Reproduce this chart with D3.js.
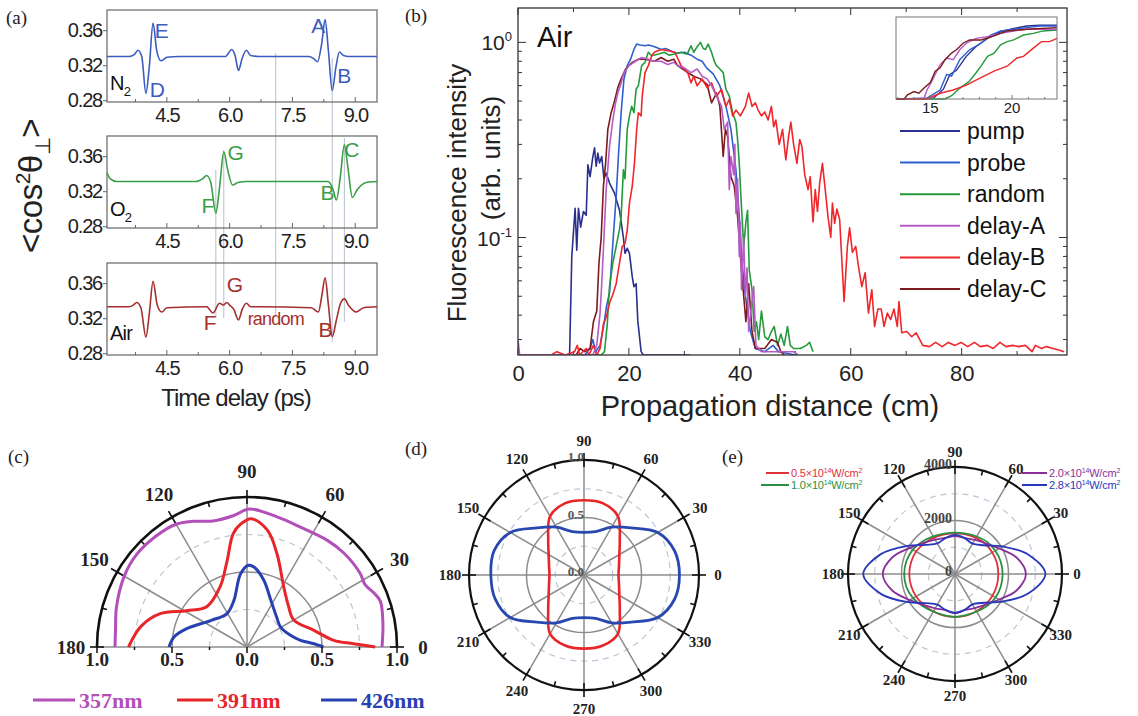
<!DOCTYPE html>
<html>
<head>
<meta charset="utf-8">
<script src="https://cdn.jsdelivr.net/npm/d3@7"></script>
<style>
  body { margin: 0; background: #fff; }
  svg { display: block; }
</style>
</head>
<body>
<svg id="canvas"></svg>
<script>
// ---------------- data ----------------
// (a) alignment traces, [time delay ps, <cos^2 theta>]
const n2Trace = [[3.07,0.330],[3.6,0.330],[3.72,0.332],[3.81,0.337],[3.9,0.330],[4.0,0.288],[4.08,0.318],[4.17,0.368],[4.26,0.336],[4.36,0.325],[4.5,0.329],[4.8,0.330],[5.9,0.330],[6.05,0.338],[6.13,0.331],[6.21,0.314],[6.3,0.328],[6.4,0.337],[6.5,0.331],[6.7,0.330],[7.9,0.330],[8.02,0.327],[8.1,0.324],[8.2,0.345],[8.28,0.372],[8.36,0.336],[8.45,0.291],[8.54,0.318],[8.62,0.335],[8.72,0.331],[8.85,0.330],[9.52,0.330]];
const o2Trace = [[3.07,0.341],[3.15,0.334],[3.3,0.331],[5.2,0.331],[5.35,0.334],[5.45,0.338],[5.55,0.330],[5.67,0.295],[5.76,0.325],[5.86,0.365],[5.95,0.345],[6.07,0.327],[6.2,0.330],[6.4,0.331],[8.35,0.331],[8.47,0.322],[8.55,0.310],[8.64,0.335],[8.74,0.373],[8.83,0.345],[8.93,0.313],[9.05,0.322],[9.26,0.330],[9.52,0.331]];
const airTrace = [[3.07,0.333],[3.6,0.333],[3.7,0.335],[3.78,0.338],[3.88,0.332],[4.0,0.2985],[4.08,0.325],[4.17,0.362],[4.27,0.335],[4.38,0.327],[4.5,0.332],[5.45,0.333],[5.6,0.326],[5.76,0.337],[5.85,0.335],[5.93,0.338],[6.0,0.335],[6.1,0.330],[6.21,0.318],[6.3,0.330],[6.4,0.337],[6.5,0.333],[6.7,0.333],[7.95,0.332],[8.12,0.327],[8.2,0.345],[8.28,0.366],[8.36,0.335],[8.45,0.299],[8.55,0.318],[8.65,0.337],[8.74,0.342],[8.85,0.334],[9.02,0.327],[9.2,0.332],[9.52,0.333]];
const aXTicks = [4.5, 6.0, 7.5, 9.0];
const aYTicks = [0.28, 0.32, 0.36];
const guideTimes = [5.67, 5.86, 7.1, 8.45, 8.74];
// peak labels, [text, time, value]
const n2Labels = [['E',4.21,0.351],['D',4.09,0.284],['A',7.95,0.357],['B',8.57,0.300]];
const o2Labels = [['G',5.95,0.356],['F',5.33,0.295],['B',8.17,0.310],['C',8.74,0.359]];
const airLabels = [['G',5.93,0.350],['F',5.38,0.3065],['random',6.43,0.312],['B',8.12,0.2985]];

// (b) fluorescence vs propagation distance, [cm, intensity]
const pumpData = [[0,0.025],[9.3,0.025],[9.7,0.08],[10.3,0.141],[10.6,0.086],[10.9,0.141],[11.3,0.113],[11.8,0.136],[12.3,0.13],[12.6,0.236],[13.0,0.205],[13.5,0.26],[13.8,0.288],[14.1,0.232],[14.4,0.271],[14.7,0.241],[15.1,0.26],[15.5,0.2],[15.9,0.214],[16.5,0.19],[17.4,0.169],[18.3,0.138],[19.0,0.1],[19.3,0.083],[19.7,0.088],[20.1,0.083],[20.6,0.063],[20.9,0.056],[21.3,0.058],[21.6,0.0375],[22.2,0.026],[22.6,0.025],[31,0.025]];
const probeData = [[0,0.025],[12,0.025],[13.0,0.027],[13.5,0.03],[14.0,0.026],[14.8,0.028],[15.5,0.036],[16.0,0.045],[16.5,0.052],[17.1,0.093],[17.7,0.162],[18.1,0.26],[18.6,0.436],[19.1,0.647],[19.7,0.76],[20.3,0.82],[20.9,0.92],[21.4,0.98],[22.0,0.97],[22.9,0.96],[23.5,0.97],[24.1,0.96],[25.0,0.94],[25.8,0.92],[26.6,0.93],[27.5,0.905],[28.5,0.88],[30,0.89],[31.2,0.86],[32.3,0.82],[33.2,0.8],[34,0.74],[35.2,0.69],[36.4,0.6],[37.5,0.47],[38.4,0.358],[39.3,0.222],[39.9,0.128],[40.4,0.074],[41,0.05],[41.9,0.033],[42.8,0.027],[44.5,0.026],[46,0.028],[47,0.026],[50,0.025]];
const randomData = [[0,0.025],[15.0,0.025],[15.6,0.026],[16.1,0.036],[16.5,0.056],[17.1,0.074],[17.7,0.09],[18.3,0.11],[18.6,0.128],[19.0,0.222],[19.3,0.2],[19.7,0.358],[20.1,0.42],[20.5,0.47],[20.9,0.436],[21.3,0.575],[21.7,0.6],[22.3,0.76],[22.9,0.79],[23.5,0.89],[24.1,0.854],[25.2,0.87],[26.4,0.89],[27.2,0.86],[28.1,0.87],[29.4,0.89],[30.5,0.87],[31.2,0.96],[31.7,0.89],[32.3,0.95],[32.9,1.0],[33.4,0.93],[33.8,0.92],[34.3,0.98],[34.9,0.89],[35.4,0.8],[35.8,0.76],[36.4,0.73],[37,0.7],[37.5,0.575],[38.1,0.53],[38.7,0.436],[39.3,0.39],[39.6,0.318],[39.9,0.24],[40.2,0.162],[40.4,0.128],[40.7,0.09],[41.1,0.12],[41.4,0.138],[41.7,0.068],[42.2,0.054],[42.6,0.033],[43.0,0.037],[43.4,0.03],[43.9,0.042],[44.5,0.031],[45.1,0.03],[45.7,0.033],[46.2,0.035],[46.8,0.028],[47.4,0.032],[48,0.028],[48.6,0.035],[49.1,0.028],[49.7,0.027],[50.9,0.027],[52,0.028],[52.6,0.029],[53.2,0.026]];
const delayAData = [[0,0.03],[0.3,0.025],[13.5,0.025],[14.2,0.028],[14.8,0.041],[15.1,0.058],[15.5,0.1],[15.9,0.176],[16.5,0.293],[17.1,0.4],[17.6,0.49],[18.0,0.55],[18.6,0.62],[19.1,0.7],[20,0.76],[21.2,0.8],[22.3,0.837],[23.5,0.82],[24.6,0.8],[25.8,0.8],[27,0.77],[28.1,0.79],[28.8,0.76],[30,0.74],[31.2,0.7],[32.3,0.73],[33.2,0.67],[34.1,0.65],[34.9,0.6],[35.8,0.53],[36.7,0.47],[37.2,0.358],[37.8,0.39],[38.1,0.176],[38.4,0.26],[38.9,0.21],[39.1,0.3],[39.3,0.133],[39.6,0.2],[39.9,0.08],[40.1,0.12],[40.3,0.054],[40.7,0.1],[41.0,0.05],[41.3,0.07],[41.6,0.033],[42.1,0.045],[42.5,0.056],[42.9,0.028],[43.9,0.026],[45.1,0.026],[46.8,0.026],[49.7,0.026],[50.5,0.025]];
const delayBData = [[0,0.025],[6,0.025],[7,0.026],[8.5,0.025],[10.2,0.026],[10.7,0.028],[11.1,0.025],[12.3,0.027],[12.8,0.025],[13.6,0.028],[14.2,0.025],[14.8,0.027],[15.4,0.036],[15.9,0.039],[16.5,0.046],[17.1,0.051],[17.7,0.058],[18.3,0.074],[18.8,0.09],[19.3,0.093],[19.7,0.109],[20.1,0.15],[20.6,0.183],[21.0,0.24],[21.4,0.358],[21.7,0.436],[22.2,0.42],[22.4,0.53],[22.9,0.7],[23.5,0.76],[24.1,0.854],[24.6,0.89],[25.8,0.92],[27,0.905],[28.3,0.89],[29.4,0.76],[30.6,0.7],[31.2,0.62],[31.7,0.67],[32.3,0.6],[33.2,0.65],[34.1,0.586],[34.9,0.62],[35.8,0.53],[36.7,0.575],[37.5,0.47],[38.1,0.51],[38.7,0.42],[39.3,0.45],[40.1,0.42],[41.0,0.47],[41.6,0.55],[42.2,0.47],[42.8,0.49],[43.3,0.45],[43.9,0.42],[44.5,0.44],[45.1,0.4],[45.7,0.47],[46.1,0.37],[46.5,0.4],[47.1,0.3],[47.7,0.358],[48.3,0.25],[48.8,0.33],[49.2,0.39],[49.7,0.3],[50.3,0.24],[50.8,0.318],[51.2,0.293],[51.7,0.21],[52.3,0.176],[52.7,0.205],[53.2,0.12],[53.6,0.176],[54.0,0.136],[54.4,0.19],[54.9,0.24],[55.4,0.176],[55.9,0.128],[56.4,0.1],[56.7,0.15],[57.1,0.118],[57.5,0.14],[58.0,0.124],[58.8,0.047],[59.4,0.09],[59.8,0.112],[60.3,0.084],[60.9,0.09],[61.4,0.071],[62,0.056],[62.6,0.066],[63.2,0.041],[63.8,0.054],[64.3,0.035],[64.9,0.043],[65.5,0.043],[66,0.035],[66.6,0.041],[67.2,0.038],[67.8,0.043],[68.4,0.035],[68.7,0.047],[69.2,0.0325],[70.1,0.033],[71,0.031],[71.8,0.0325],[73,0.028],[74.2,0.0276],[75.3,0.029],[76.5,0.0276],[77.6,0.029],[78.8,0.028],[79.9,0.029],[81.1,0.0276],[82.3,0.029],[83.4,0.0276],[84.6,0.028],[85.7,0.027],[86.9,0.029],[88,0.0276],[89.2,0.028],[90.3,0.0276],[91.5,0.028],[92.7,0.026],[93.3,0.028],[94.4,0.027],[95.3,0.0276],[96.5,0.027],[97.5,0.0265],[98.5,0.026]];
const delayCData = [[0,0.025],[10.5,0.025],[11.2,0.027],[12,0.026],[13,0.027],[13.6,0.037],[14.2,0.042],[14.6,0.074],[15,0.1],[15.4,0.183],[15.8,0.24],[16.2,0.358],[16.8,0.436],[17.4,0.5],[18,0.586],[18.6,0.65],[19.4,0.73],[20.6,0.79],[21.7,0.82],[22.9,0.82],[24.6,0.8],[25.8,0.837],[27,0.8],[28.1,0.82],[28.8,0.76],[30.6,0.7],[31.7,0.67],[32.9,0.65],[34.1,0.61],[34.9,0.49],[35.8,0.55],[36.4,0.47],[37,0.26],[37.4,0.358],[37.8,0.33],[38.4,0.205],[39,0.183],[39.6,0.128],[40.2,0.074],[40.7,0.05],[41.1,0.037],[41.6,0.058],[42.2,0.033],[42.8,0.027],[44.5,0.027],[45.7,0.03],[46.8,0.029],[47.4,0.026],[48,0.025]];
const bXTicks = [0, 20, 40, 60, 80];
const seriesNames = ['pump', 'probe', 'random', 'delay-A', 'delay-B', 'delay-C'];
// (b) inset, linear scale, [cm, relative intensity]
const insetPump = [[12.9,0],[15.2,0.01],[15.8,0.12],[16.2,0.3],[16.6,0.35],[17.2,0.52],[17.8,0.64],[18.5,0.74],[19.3,0.82],[20.1,0.86],[20.9,0.89],[21.7,0.9],[22.75,0.9]];
const insetProbe = [[12.9,0],[14.8,0.01],[15.6,0.11],[16.0,0.3],[16.3,0.28],[16.8,0.48],[17.4,0.6],[18.1,0.68],[18.7,0.78],[19.3,0.83],[20.1,0.85],[20.9,0.87],[21.7,0.89],[22.75,0.89]];
const insetRandom = [[12.9,0],[15.9,0],[16.3,0.04],[16.8,0.13],[17.4,0.22],[17.8,0.32],[18.1,0.4],[18.5,0.52],[18.9,0.56],[19.3,0.66],[19.7,0.7],[20.1,0.72],[20.7,0.78],[21.3,0.8],[21.9,0.83],[22.75,0.84]];
const insetDelayA = [[12.9,0],[14.6,0],[14.8,0.11],[15.1,0.22],[15.6,0.42],[16.0,0.5],[16.4,0.48],[16.8,0.6],[17.2,0.68],[17.8,0.74],[18.5,0.76],[19.3,0.8],[20.1,0.83],[20.9,0.85],[21.7,0.85],[22.75,0.85]];
const insetDelayB = [[12.9,0],[14.8,0],[15.6,0.07],[16.4,0.11],[17.2,0.17],[18.1,0.26],[18.9,0.34],[19.7,0.4],[20.3,0.5],[20.7,0.52],[21.3,0.62],[21.8,0.7],[22.3,0.7],[22.75,0.74]];
const insetDelayC = [[12.9,0],[13.4,0],[13.6,0.05],[14.0,0.09],[14.3,0.07],[14.6,0.13],[15.0,0.2],[15.3,0.34],[15.6,0.38],[15.9,0.48],[16.3,0.56],[16.6,0.6],[17.0,0.68],[17.4,0.72],[18.1,0.72],[18.9,0.77],[19.7,0.83],[20.9,0.85],[22.75,0.87]];
const insetTicks = [15, 20];

// (c) polarisation, half polar, [angle deg, normalised intensity]
const c357 = [[0,0.90],[10,0.92],[19,0.94],[23,0.92],[28,0.89],[33,0.90],[44,0.90],[53,0.89],[66,0.875],[77,0.89],[89,0.92],[96,0.88],[105,0.87],[113,0.91],[120,0.945],[129,0.956],[140,0.96],[150,0.945],[163,0.91],[172,0.885],[180,0.88]];
const c391 = [[0,0.855],[1.8,0.71],[4.4,0.58],[14,0.46],[30,0.36],[45,0.39],[58.6,0.47],[72,0.65],[80,0.79],[88,0.856],[93,0.82],[97,0.76],[103,0.59],[114,0.44],[135,0.38],[149,0.47],[159,0.62],[169,0.72],[180,0.79]];
const c426 = [[0,0.51],[3,0.44],[7,0.36],[15,0.30],[31,0.26],[45,0.28],[63,0.35],[76,0.46],[85,0.535],[89,0.545],[95,0.49],[106,0.32],[121,0.26],[144,0.30],[163,0.42],[172,0.49],[180,0.52]];
const cLegend = ['357nm', '391nm', '426nm'];
const cAxisTicks = [-1, -0.5, 0, 0.5, 1];

// (d) and (e) full polar, sampled every 15 degrees from 0 to 345
const polarAngles = [0,15,30,45,60,75,90,105,120,135,150,165,180,195,210,225,240,255,270,285,300,315,330,345];
const dRed  = [0.30,0.315,0.355,0.44,0.59,0.645,0.65,0.645,0.59,0.44,0.355,0.315,0.30,0.315,0.355,0.44,0.59,0.635,0.64,0.635,0.59,0.44,0.355,0.315];
const dBlue = [0.83,0.815,0.74,0.58,0.48,0.39,0.37,0.39,0.48,0.58,0.74,0.81,0.81,0.80,0.74,0.58,0.48,0.39,0.37,0.39,0.48,0.58,0.74,0.815];
const dRadialTicks = [0, 0.5, 1.0];
const e05 = [1620,1620,1610,1600,1560,1530,1520,1530,1570,1620,1680,1700,1710,1700,1680,1640,1620,1610,1610,1610,1610,1610,1620,1620];
const e10 = [1780,1770,1740,1700,1620,1560,1545,1560,1620,1720,1820,1880,1900,1880,1810,1700,1620,1590,1600,1590,1620,1690,1750,1775];
const e20 = [2650,2380,1910,1620,1470,1395,1420,1400,1480,1650,1950,2420,2700,2420,1950,1650,1480,1400,1470,1400,1470,1620,1910,2380];
const e28 = [3380,2830,2060,1520,1310,1390,1460,1390,1320,1540,2090,2870,3430,2870,2090,1540,1320,1390,1450,1390,1310,1520,2060,2830];
const eRadialTicks = [0, 2000, 4000];
const eLegend = ['0.5', '1.0', '2.0', '2.8'];

// ---------------- setup ----------------
let SANS = "'Liberation Sans', Arial, Helvetica, sans-serif";
let SERIF = "'Liberation Serif', 'Times New Roman', Times, serif";
let width = 1138;
let height = 716;

let svg = d3.select('#canvas').attr('width', width).attr('height', height);
svg.append('rect').attr('width', width).attr('height', height).attr('fill', '#fff');

let panelLabel = (txt, x, y) => {
  svg.append('text').attr('x', x).attr('y', y)
    .attr('font-family', SERIF).attr('font-size', 19).attr('fill', '#222').text(txt);
};

// ---------------- panel (a) ----------------
let aLeft = 107, aRight = 377, aH = 92;
let aTops = [10, 136, 263];
let aX = d3.scaleLinear().domain([3.07, 9.52]).range([aLeft, aRight]);

let drawAlignment = () => {
  let guideSpans = [[170, 318], [150, 318], [53, 315], [58, 342], [138, 322]];
  guideTimes.forEach((t, i) => {
    svg.append('line').attr('x1', aX(t)).attr('x2', aX(t))
      .attr('y1', guideSpans[i][0]).attr('y2', guideSpans[i][1])
      .attr('stroke', '#b4c0cc').attr('stroke-width', 1);
  });

  let panels = [
    {data: n2Trace, color: '#3c5cc0', gas: 'N', sub: '2', labels: n2Labels},
    {data: o2Trace, color: '#3a9e48', gas: 'O', sub: '2', labels: o2Labels},
    {data: airTrace, color: '#a3302f', gas: 'Air', sub: '', labels: airLabels}
  ];

  panels.forEach((p, i) => {
    let top = aTops[i];
    let y = d3.scaleLinear().domain([0.278, 0.383]).range([top + aH, top]);
    let g = svg.append('g');

    g.append('rect').attr('x', aLeft).attr('y', top)
      .attr('width', aRight - aLeft).attr('height', aH)
      .attr('fill', 'none').attr('stroke', '#666').attr('stroke-width', 1.2);

    // inward x ticks every 0.75 ps
    d3.range(3.75, 9.5, 0.75).forEach((t) => {
      let major = aXTicks.some((m) => Math.abs(m - t) < 0.01);
      g.append('line').attr('x1', aX(t)).attr('x2', aX(t))
        .attr('y1', top + aH).attr('y2', top + aH - (major ? 5 : 3))
        .attr('stroke', '#666');
    });

    let xAxis = d3.axisBottom(aX).tickValues(aXTicks).tickFormat(d3.format('.1f')).tickSize(0).tickPadding(6);
    let gx = g.append('g').attr('transform', 'translate(0,' + (top + aH) + ')').call(xAxis);
    gx.select('.domain').remove();
    gx.selectAll('text').attr('font-family', SANS).attr('font-size', 20)
      .attr('letter-spacing', -1.2).attr('fill', '#222');

    let yAxis = d3.axisLeft(y).tickValues(aYTicks).tickFormat(d3.format('.2f')).tickSize(4).tickPadding(1);
    let gy = g.append('g').attr('transform', 'translate(' + aLeft + ',0)').call(yAxis);
    gy.select('.domain').remove();
    gy.selectAll('line').attr('stroke', '#666');
    gy.selectAll('text').attr('font-family', SANS).attr('font-size', 20)
      .attr('letter-spacing', -1.2).attr('fill', '#222');

    g.append('path').datum(p.data)
      .attr('fill', 'none').attr('stroke', p.color).attr('stroke-width', 1.6)
      .attr('d', d3.line().x((d) => aX(d[0])).y((d) => y(d[1])).curve(d3.curveMonotoneX));

    p.labels.forEach((l) => {
      g.append('text').attr('x', aX(l[1])).attr('y', y(l[2]))
        .attr('font-family', SANS).attr('font-size', l[0] === 'random' ? 18 : 21)
        .attr('letter-spacing', -0.8).attr('fill', p.color).text(l[0]);
    });

    let gas = g.append('text').attr('x', 110).attr('y', top + (i === 2 ? 77 : 80))
      .attr('font-family', SANS).attr('font-size', 20).attr('letter-spacing', -0.8).attr('fill', '#111');
    gas.append('tspan').text(p.gas);
    if (p.sub) gas.append('tspan').attr('dy', 6).attr('font-size', 13).text(p.sub);
  });

  // axis titles
  let yl = svg.append('text').attr('transform', 'translate(42,186) rotate(-90)')
    .attr('text-anchor', 'middle').attr('font-family', SANS).attr('font-size', 33)
    .attr('letter-spacing', -0.5).attr('fill', '#222');
  yl.append('tspan').text('<cos');
  yl.append('tspan').attr('dy', -12).attr('font-size', 21).text('2');
  yl.append('tspan').attr('dy', 12).text('\u03b8');
  yl.append('tspan').attr('dy', 8).attr('font-size', 21).text('\u22a5');
  yl.append('tspan').attr('dy', -8).text('>');

  svg.append('text').attr('x', 236).attr('y', 406).attr('text-anchor', 'middle')
    .attr('font-family', SANS).attr('font-size', 24).attr('letter-spacing', -1)
    .attr('fill', '#222').text('Time delay (ps)');

  panelLabel('(a)', 6, 24);
};

// ---------------- panel (b) ----------------
let bLeft = 518, bRight = 1067, bTop = 8, bBottom = 355;
let bX = d3.scaleLinear().domain([0, 99]).range([bLeft, bRight]);
let bY = d3.scaleLog().domain([0.025, 1.5]).range([bBottom, bTop]);
let bColors = ['#2a2f8e', '#2f5fd0', '#249a3c', '#b45cc4', '#f0262a', '#7c1a1e'];

let drawFluorescence = () => {
  let g = svg.append('g');
  g.append('clipPath').attr('id', 'bclip').append('rect')
    .attr('x', bLeft).attr('y', bTop).attr('width', bRight - bLeft).attr('height', bBottom - bTop);

  // ticks (inward, mirrored)
  d3.range(0, 99, 10).forEach((v) => {
    let len = v % 20 === 0 ? 7 : 4;
    g.append('line').attr('x1', bX(v)).attr('x2', bX(v)).attr('y1', bBottom).attr('y2', bBottom - len).attr('stroke', '#333');
    g.append('line').attr('x1', bX(v)).attr('x2', bX(v)).attr('y1', bTop).attr('y2', bTop + len).attr('stroke', '#333');
  });
  let yTickVals = [0.03,0.04,0.05,0.06,0.07,0.08,0.09,0.1,0.2,0.3,0.4,0.5,0.6,0.7,0.8,0.9,1.0];
  yTickVals.forEach((v) => {
    let len = (v === 0.1 || v === 1.0) ? 8 : 4;
    g.append('line').attr('x1', bLeft).attr('x2', bLeft + len).attr('y1', bY(v)).attr('y2', bY(v)).attr('stroke', '#333');
    g.append('line').attr('x1', bRight).attr('x2', bRight - len).attr('y1', bY(v)).attr('y2', bY(v)).attr('stroke', '#333');
  });

  let xAxis = d3.axisBottom(bX).tickValues(bXTicks).tickFormat(d3.format('d')).tickSize(0).tickPadding(10);
  let gx = g.append('g').attr('transform', 'translate(0,' + bBottom + ')').call(xAxis);
  gx.select('.domain').remove();
  gx.selectAll('text').attr('font-family', SANS).attr('font-size', 22).attr('fill', '#222');

  [[1, '0'], [0.1, '-1']].forEach((t) => {
    let txt = g.append('text').attr('x', 512).attr('y', bY(t[0]) + 8).attr('text-anchor', 'end')
      .attr('font-family', SANS).attr('font-size', 21).attr('fill', '#222');
    txt.append('tspan').text('10');
    txt.append('tspan').attr('dy', -9).attr('font-size', 13).text(t[1]);
  });

  let series = [pumpData, probeData, randomData, delayCData, delayBData, delayAData];
  let colorIdx = [0, 1, 2, 5, 4, 3];
  let line = d3.line().x((d) => bX(d[0])).y((d) => bY(Math.max(d[1], 0.025)));
  series.forEach((s, i) => {
    g.append('path').datum(s).attr('clip-path', 'url(#bclip)')
      .attr('fill', 'none').attr('stroke', bColors[colorIdx[i]]).attr('stroke-width', 1.6)
      .attr('stroke-linejoin', 'round').attr('d', line);
  });

  g.append('rect').attr('x', bLeft).attr('y', bTop).attr('width', bRight - bLeft).attr('height', bBottom - bTop)
    .attr('fill', 'none').attr('stroke', '#333').attr('stroke-width', 1.3);

  g.append('text').attr('x', 537).attr('y', 47).attr('font-family', SANS).attr('font-size', 29)
    .attr('fill', '#111').text('Air');

  // inset
  let iX = d3.scaleLinear().domain([12.9, 22.75]).range([896, 1057]);
  let iY = d3.scaleLinear().domain([0, 1]).range([99, 17]);
  let insets = [insetPump, insetProbe, insetRandom, insetDelayA, insetDelayB, insetDelayC];
  g.append('rect').attr('x', 896).attr('y', 17).attr('width', 161).attr('height', 82).attr('fill', '#fff');
  let iLine = d3.line().x((d) => iX(d[0])).y((d) => iY(d[1]));
  insets.forEach((s, i) => {
    g.append('path').datum(s).attr('fill', 'none').attr('stroke', bColors[i])
      .attr('stroke-width', 1.4).attr('d', iLine);
  });
  g.append('rect').attr('x', 896).attr('y', 17).attr('width', 161).attr('height', 82)
    .attr('fill', 'none').attr('stroke', '#777').attr('stroke-width', 1);
  d3.range(13, 23, 1).forEach((v) => {
    g.append('line').attr('x1', iX(v)).attr('x2', iX(v)).attr('y1', 99).attr('y2', v % 5 === 0 ? 95 : 97).attr('stroke', '#777');
  });
  insetTicks.forEach((v) => {
    g.append('text').attr('x', iX(v)).attr('y', 113).attr('text-anchor', 'middle')
      .attr('font-family', SANS).attr('font-size', 15).attr('fill', '#222').text(v);
  });

  // legend
  seriesNames.forEach((n, i) => {
    let yy = 131 + i * 31.6;
    g.append('line').attr('x1', 900).attr('x2', 960).attr('y1', yy).attr('y2', yy)
      .attr('stroke', bColors[i]).attr('stroke-width', 2);
    g.append('text').attr('x', 967).attr('y', yy + 8).attr('font-family', SANS).attr('font-size', 23)
      .attr('fill', '#111').text(n);
  });

  // titles
  g.append('text').attr('x', 770).attr('y', 416).attr('text-anchor', 'middle')
    .attr('font-family', SANS).attr('font-size', 29).attr('fill', '#222').text('Propagation distance (cm)');
  g.append('text').attr('transform', 'translate(466,193) rotate(-90)').attr('text-anchor', 'middle')
    .attr('font-family', SANS).attr('font-size', 26).attr('fill', '#222').text('Fluorescence intensity');
  g.append('text').attr('transform', 'translate(500,158) rotate(-90)').attr('text-anchor', 'middle')
    .attr('font-family', SANS).attr('font-size', 26).attr('fill', '#222').text('(arb. units)');

  panelLabel('(b)', 405, 22);
};

// ---------------- polar helpers ----------------
let rad = (deg) => deg * Math.PI / 180;
let polarPt = (cx, cy, r, deg) => [cx + r * Math.cos(rad(deg)), cy - r * Math.sin(rad(deg))];

let drawPolarFrame = (o) => {
  let g = svg.append('g');
  let full = o.maxAngle >= 360;
  let ring = (r) => {
    let p = d3.path();
    if (full) { p.arc(o.cx, o.cy, r, 0, 2 * Math.PI); }
    else { p.arc(o.cx, o.cy, r, Math.PI, 2 * Math.PI); }
    return p.toString();
  };
  [0.25, 0.75].forEach((f) => {
    g.append('path').attr('d', ring(f * o.R)).attr('fill', 'none')
      .attr('stroke', '#b9c7d4').attr('stroke-width', 1.2).attr('stroke-dasharray', '6,5');
  });
  g.append('path').attr('d', ring(0.5 * o.R)).attr('fill', 'none').attr('stroke', '#8c8c8c').attr('stroke-width', 1.5);
  let spokes = d3.range(0, full ? 360 : 181, 30);
  spokes.forEach((a) => {
    let p = polarPt(o.cx, o.cy, o.R, a);
    g.append('line').attr('x1', o.cx).attr('y1', o.cy).attr('x2', p[0]).attr('y2', p[1])
      .attr('stroke', '#8c8c8c').attr('stroke-width', 1.5);
  });
  g.append('path').attr('d', ring(o.R)).attr('fill', 'none').attr('stroke', '#111').attr('stroke-width', o.outerWidth);
  d3.range(0, full ? 360 : 181, 15).forEach((a) => {
    let major = a % 30 === 0;
    let p1 = polarPt(o.cx, o.cy, o.R + (major ? 7 : 0), a);
    let p2 = polarPt(o.cx, o.cy, o.R - (major ? 7 : 5), a);
    g.append('line').attr('x1', p1[0]).attr('y1', p1[1]).attr('x2', p2[0]).attr('y2', p2[1])
      .attr('stroke', '#111').attr('stroke-width', 1.6);
  });
  spokes.forEach((a) => {
    let p = polarPt(o.cx, o.cy, o.R + o.labelGap, a);
    g.append('text').attr('x', p[0]).attr('y', p[1] + o.fontSize * 0.35).attr('text-anchor', 'middle')
      .attr('font-family', SERIF).attr('font-weight', 'bold').attr('font-size', o.fontSize)
      .attr('fill', '#222').text(a);
  });
  return g;
};

let drawPolarCurve = (g, o, pts, rMax, color, w, closed) => {
  let line = d3.lineRadial()
    .angle((d) => Math.PI / 2 - rad(d[0]))
    .radius((d) => d[1] / rMax * o.R)
    .curve(closed ? d3.curveCatmullRomClosed : d3.curveCatmullRom);
  g.append('path').datum(pts).attr('transform', 'translate(' + o.cx + ',' + o.cy + ')')
    .attr('fill', 'none').attr('stroke', color).attr('stroke-width', w).attr('d', line);
};

// ---------------- panel (c) ----------------
let drawHalfPolar = () => {
  let o = {cx: 247, cy: 647, R: 150, maxAngle: 180, labelGap: 26, fontSize: 19, outerWidth: 2.6};
  let g = drawPolarFrame(o);
  let colors = ['#b24fb8', '#e8262a', '#2840b0'];
  [c357, c391, c426].forEach((s, i) => drawPolarCurve(g, o, s, 1, colors[i], 3, false));

  let rx = d3.scaleLinear().domain([-1, 1]).range([o.cx - o.R, o.cx + o.R]);
  d3.range(-1, 1.01, 0.25).forEach((v) => {
    let major = Math.abs(v * 2 - Math.round(v * 2)) < 1e-6;
    g.append('line').attr('x1', rx(v)).attr('x2', rx(v)).attr('y1', o.cy).attr('y2', o.cy + (major ? 6 : 3))
      .attr('stroke', '#111').attr('stroke-width', 1.5);
  });
  cAxisTicks.forEach((v) => {
    g.append('text').attr('x', rx(v)).attr('y', o.cy + 19).attr('text-anchor', 'middle')
      .attr('font-family', SERIF).attr('font-weight', 'bold').attr('font-size', 19).attr('fill', '#222')
      .text(d3.format('.1f')(Math.abs(v)));
  });

  let lx = [[33, 75, 79], [177, 213, 217], [321, 357, 361]];
  cLegend.forEach((n, i) => {
    g.append('line').attr('x1', lx[i][0]).attr('x2', lx[i][1]).attr('y1', 700).attr('y2', 700)
      .attr('stroke', colors[i]).attr('stroke-width', 3);
    g.append('text').attr('x', lx[i][2]).attr('y', 708).attr('font-family', SERIF).attr('font-weight', 'bold')
      .attr('font-size', 22).attr('fill', colors[i]).text(n);
  });
  panelLabel('(c)', 8, 463);
};

// ---------------- panel (d) ----------------
let drawPolarD = () => {
  let o = {cx: 584, cy: 575, R: 115, maxAngle: 360, labelGap: 19, fontSize: 15, outerWidth: 2.2};
  let g = drawPolarFrame(o);
  let toPts = (arr) => polarAngles.map((a, i) => [a, arr[i]]);
  drawPolarCurve(g, o, toPts(dRed), 1, '#e8262a', 2.6, true);
  drawPolarCurve(g, o, toPts(dBlue), 1, '#2848b0', 2.8, true);
  dRadialTicks.forEach((v) => {
    g.append('text').attr('x', o.cx).attr('y', o.cy - v * o.R + 1).attr('text-anchor', 'end')
      .attr('font-family', SERIF).attr('font-weight', 'bold').attr('font-size', 13).attr('fill', '#555')
      .text(d3.format('.1f')(v));
  });
  panelLabel('(d)', 405, 455);
};

// ---------------- panel (e) ----------------
let drawPolarE = () => {
  let o = {cx: 955, cy: 574, R: 107, maxAngle: 360, labelGap: 15, fontSize: 15, outerWidth: 2.2};
  let g = drawPolarFrame(o);
  let toPts = (arr) => polarAngles.map((a, i) => [a, arr[i]]);
  let colors = ['#e0303a', '#2a9040', '#8a2f9a', '#2838b8'];
  [e05, e10, e20, e28].forEach((s, i) => drawPolarCurve(g, o, toPts(s), 4000, colors[i], 1.8, true));
  eRadialTicks.forEach((v) => {
    g.append('text').attr('x', o.cx - 3).attr('y', o.cy - v / 4000 * o.R + 2).attr('text-anchor', 'end')
      .attr('font-family', SERIF).attr('font-weight', 'bold').attr('font-size', 14).attr('fill', '#444')
      .text(v);
  });
  let pos = [[766, 789, 791, 477], [761, 789, 791, 489], [1022, 1047, 1049, 477], [1022, 1047, 1049, 489]];
  eLegend.forEach((n, i) => {
    let p = pos[i];
    g.append('line').attr('x1', p[0]).attr('x2', p[1]).attr('y1', p[3] - 4).attr('y2', p[3] - 4)
      .attr('stroke', colors[i]).attr('stroke-width', 2);
    let t = g.append('text').attr('x', p[2]).attr('y', p[3]).attr('font-family', SANS)
      .attr('font-size', 11).attr('letter-spacing', -0.2).attr('fill', colors[i]);
    t.append('tspan').text(n + '\u00d710');
    t.append('tspan').attr('dy', -4).attr('font-size', 7).text('14');
    t.append('tspan').attr('dy', 4).text('W/cm');
    t.append('tspan').attr('dy', -4).attr('font-size', 7).text('2');
  });
  panelLabel('(e)', 722, 463);
};

drawAlignment();
drawFluorescence();
drawHalfPolar();
drawPolarD();
drawPolarE();
</script>
</body>
</html>
